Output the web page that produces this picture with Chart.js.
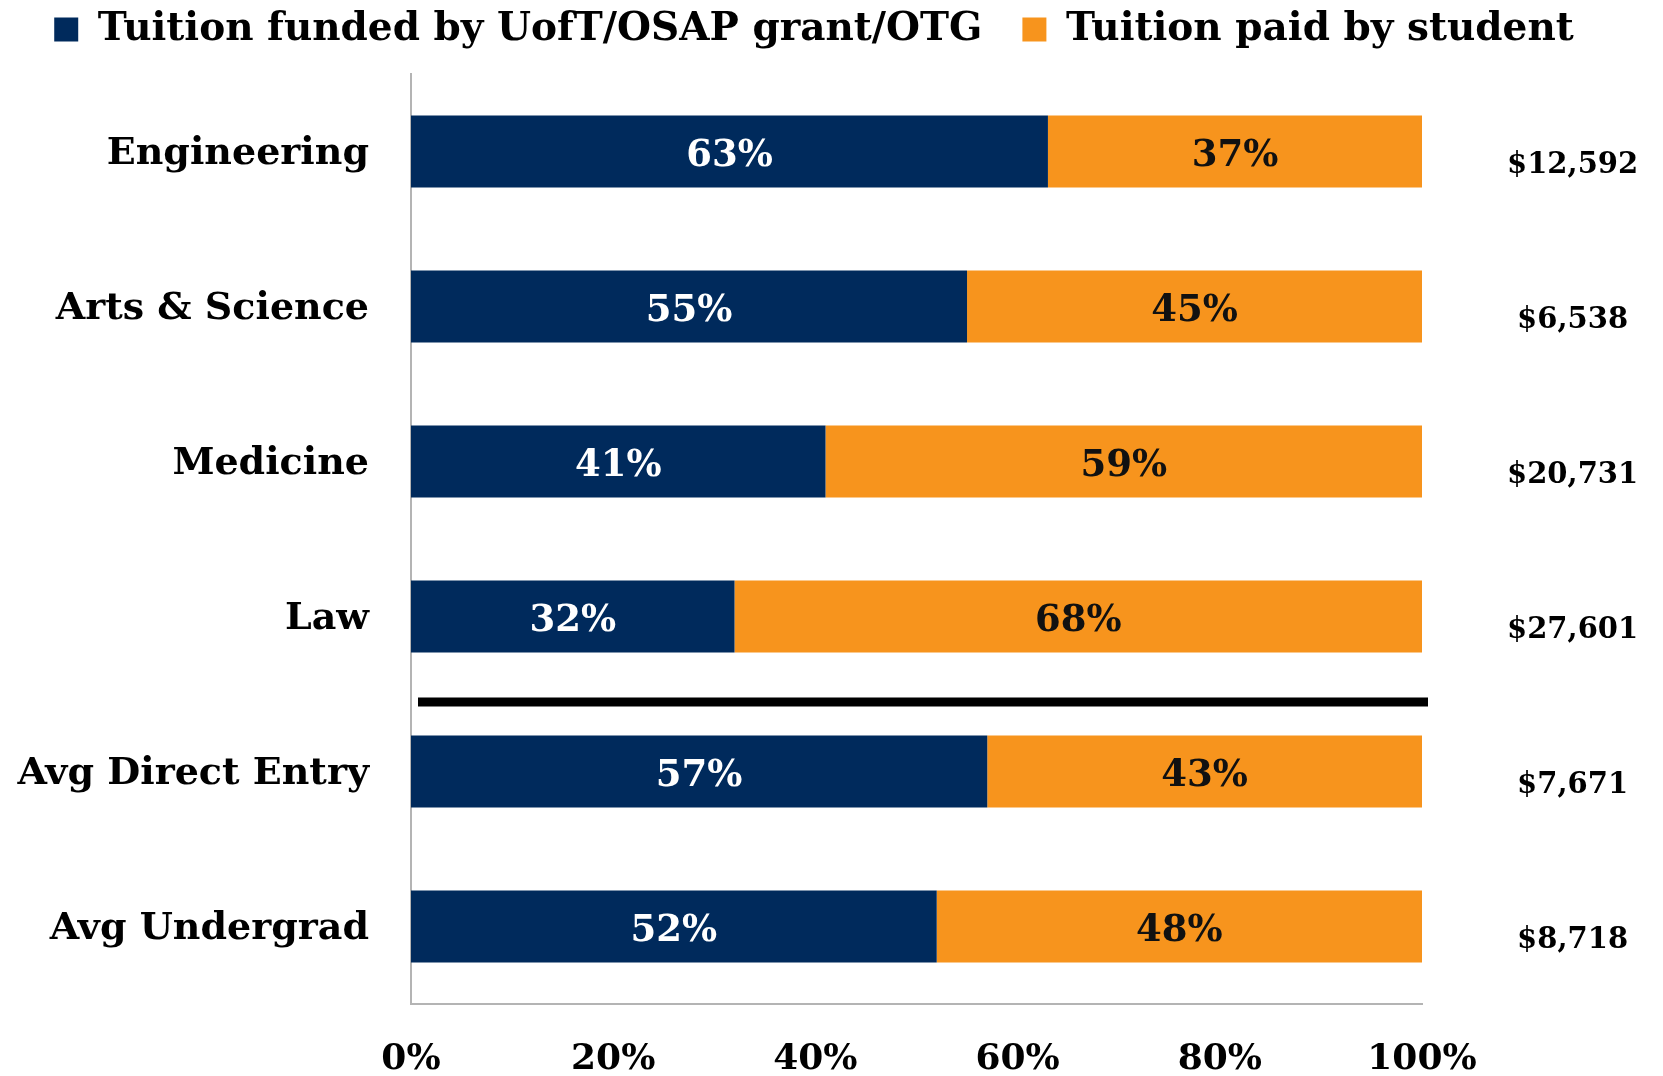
<!DOCTYPE html>
<html>
<head>
<meta charset="utf-8">
<script src="https://cdn.jsdelivr.net/npm/chart.js@4.4.1/dist/chart.umd.min.js"></script>
<style>
  html, body { margin: 0; padding: 0; background: #fff; }
  #wrap { width: 1663px; height: 1076px; }
</style>
</head>
<body>
<div id="wrap"><canvas id="tuitionChart"></canvas></div>
<script>
// Tuition split by program
const categories = ["Engineering", "Arts & Science", "Medicine", "Law", "Avg Direct Entry", "Avg Undergrad"];
const fundedPct = [63, 55, 41, 32, 57, 52];
const paidPct = [37, 45, 59, 68, 43, 48];
const tuitionCost = ["$12,592", "$6,538", "$20,731", "$27,601", "$7,671", "$8,718"];
const xTickValues = [0, 20, 40, 60, 80, 100];

const NAVY = "#002a5c";
const ORANGE = "#f7941d";
const SERIF = "'DejaVu Serif', serif";

// percent labels inside each bar segment
const barLabels = {
  id: "barLabels",
  afterDatasetsDraw(chart) {
    const ctx = chart.ctx;
    ctx.save();
    ctx.font = "bold 37px " + SERIF;
    ctx.textAlign = "center";
    ctx.textBaseline = "middle";
    chart.data.datasets.forEach((ds, i) => {
      ctx.fillStyle = i === 0 ? "#ffffff" : "#111111";
      chart.getDatasetMeta(i).data.forEach((bar, j) => {
        const c = bar.getCenterPoint();
        ctx.fillText(ds.data[j] + "%", c.x, c.y + 5);
      });
    });
    ctx.restore();
  }
};

// thick black rule between the programs and the averages
const separator = {
  id: "separator",
  afterDatasetsDraw(chart) {
    const y = chart.scales.y;
    const area = chart.chartArea;
    const py = (y.getPixelForValue(3) + y.getPixelForValue(4)) / 2 + 8;
    const ctx = chart.ctx;
    ctx.save();
    ctx.strokeStyle = "#000";
    ctx.lineWidth = 9;
    ctx.beginPath();
    ctx.moveTo(area.left + 7, py);
    ctx.lineTo(area.right + 6, py);
    ctx.stroke();
    ctx.restore();
  }
};

new Chart(document.getElementById("tuitionChart"), {
  type: "bar",
  data: {
    labels: categories,
    datasets: [
      {
        label: "Tuition funded by UofT/OSAP grant/OTG",
        data: fundedPct,
        backgroundColor: NAVY,
        barPercentage: 0.465,
        categoryPercentage: 1
      },
      {
        label: "Tuition paid by student",
        data: paidPct,
        backgroundColor: ORANGE,
        barPercentage: 0.465,
        categoryPercentage: 1
      }
    ]
  },
  options: {
    indexAxis: "y",
    responsive: true,
    maintainAspectRatio: false,
    animation: false,
    layout: { padding: { top: -30, left: -35, right: 0, bottom: 0 } },
    plugins: {
      legend: {
        position: "top",
        labels: {
          boxWidth: 24,
          boxHeight: 24,
          padding: 40,
          color: "#000",
          font: { family: SERIF, size: 39, weight: "bold" }
        }
      },
      subtitle: {
        display: true,
        text: "",
        weight: 500,
        font: { size: 10, lineHeight: 1 },
        padding: { top: 0, bottom: 5 }
      },
      tooltip: { enabled: false }
    },
    scales: {
      x: {
        stacked: true,
        min: 0,
        max: 100,
        afterBuildTicks(scale) {
          scale.ticks = xTickValues.map(v => ({ value: v }));
        },
        afterFit(scale) {
          scale.height = 72;
          scale.paddingLeft = 0;
          scale.paddingRight = 0;
        },
        grid: { display: false, drawTicks: false },
        border: { display: true, color: "#b4b4b4", width: 2 },
        ticks: {
          padding: 34,
          color: "#000",
          font: { family: SERIF, size: 36, weight: "bold" },
          callback: v => v + "%"
        }
      },
      y: {
        stacked: true,
        offset: true,
        afterFit(scale) {
          scale.width = 446;
          scale.paddingTop = 0;
          scale.paddingBottom = 0;
        },
        grid: { display: false, drawTicks: false },
        border: { display: true, color: "#b4b4b4", width: 2 },
        ticks: {
          padding: 42,
          labelOffset: 3,
          color: "#000",
          font: { family: SERIF, size: 38, weight: "bold" }
        }
      },
      cost: {
        type: "category",
        axis: "y",
        position: "right",
        labels: tuitionCost,
        offset: true,
        afterFit(scale) {
          scale.width = 241;
          scale.paddingTop = 0;
          scale.paddingBottom = 0;
        },
        grid: { display: false, drawTicks: false },
        border: { display: false },
        ticks: {
          padding: 85,
          crossAlign: "center",
          labelOffset: 14,
          color: "#000",
          font: { family: SERIF, size: 29, weight: "bold" }
        }
      }
    }
  },
  plugins: [barLabels, separator]
});
</script>
</body>
</html>
